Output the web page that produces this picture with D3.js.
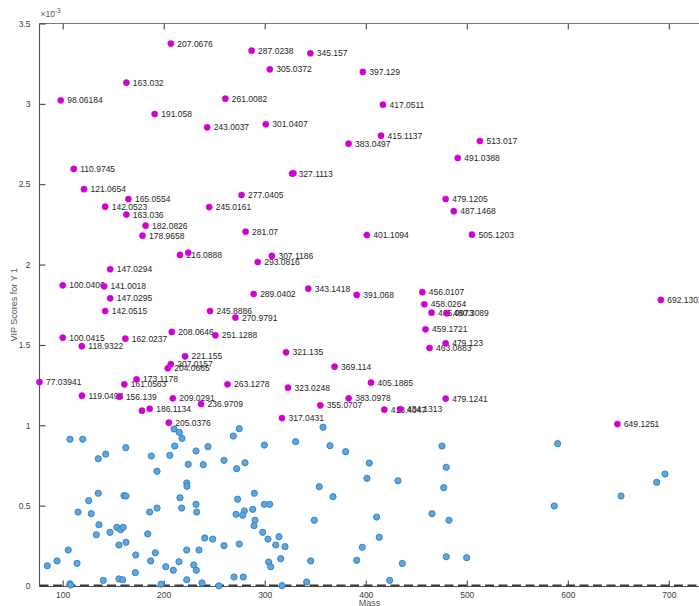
<!DOCTYPE html>
<html><head><meta charset="utf-8">
<script src="https://cdn.jsdelivr.net/npm/d3@7"></script>
<style>body{margin:0;background:#fff;}svg{display:block;font-family:"Liberation Sans",Arial,sans-serif;}</style>
</head><body>
<svg id="c" width="699" height="606"></svg>
<script>
// ---- data (VIP scores in units of 1e-3) ----
const xTicks = [100, 200, 300, 400, 500, 600, 700];
const yTicks = [0, 0.5, 1, 1.5, 2, 2.5, 3, 3.5];

// labelled (selected) features: mass label and VIP
const selLabels = ["207.0676","287.0238","345.157","305.0372","397.129","163.032","98.06184","261.0082","417.0511","191.058",
"301.0407","243.0037","415.1137","383.0497","513.017","491.0388","110.9745","327.1113","121.0654","277.0405",
"165.0554","479.1205","142.0523","245.0161","487.1468","163.036","182.0826","281.07","401.1094","505.1203",
"178.9658","216.0888","307.1186","293.0816","147.0294","100.0406","141.0018","343.1418","289.0402","391.068",
"147.0295","456.0107","458.0264","465.0973","480.3089","692.1303","142.0515","245.8886","270.9791","459.1721",
"208.0646","251.1288","100.0415","162.0237","479.123","118.9322","463.0883","321.135","221.155","207.0157",
"204.0665","369.114","173.1178","77.03941","161.0563","263.1278","405.1885","323.0248","119.0498","156.139",
"209.0291","383.0978","479.1241","236.9709","186.1134","355.0707","418.4047","434.1313","317.0431","205.0376",
"649.1251"];
const selVip = [3.375,3.331,3.315,3.215,3.199,3.132,3.022,3.032,2.995,2.937,
2.873,2.854,2.802,2.752,2.769,2.663,2.595,2.566,2.469,2.433,
2.408,2.408,2.360,2.358,2.332,2.311,2.242,2.205,2.184,2.186,
2.180,2.060,2.054,2.016,1.971,1.871,1.865,1.850,1.817,1.811,
1.790,1.828,1.753,1.701,1.697,1.780,1.711,1.711,1.670,1.597,
1.581,1.560,1.545,1.539,1.510,1.492,1.481,1.454,1.429,1.380,
1.355,1.365,1.286,1.269,1.255,1.255,1.265,1.234,1.184,1.178,
1.168,1.168,1.166,1.133,1.103,1.124,1.097,1.100,1.045,1.016,
1.008];
// selected features whose labels are hidden
const selExtraMass = [224.3, 178.5, 328.4];
const selExtraVip = [2.074, 1.091, 2.568];

// other features
const otherMass = [107.2,119.8,162.4,142.6,135.2,187.7,210.2,215.4,218.1,210.9,206.0,232.0,243.8,239.2,224.3,193.4,259.7,268.9,274.8,272.2,
135.2,125.7,115.2,128.3,160.7,162.7,135.9,133.3,146.8,153.5,157.4,160.0,155.7,162.7,222.8,223.0,216.1,217.8,193.4,186.1,
232.0,232.7,273.2,271.6,184.2,191.7,187.1,172.3,240.6,248.5,259.7,222.8,234.9,274.8,105.5,114.2,94.4,84.8,107.2,107.9,
140.2,155.7,159.4,171.9,202.0,209.5,215.1,229.7,232.3,222.8,197.3,237.9,254.7,269.6,
299.6,330.6,357.7,364.6,380.1,280.5,403.5,401.2,431.9,475.5,479.7,477.2,354.0,367.6,289.7,299.6,304.9,288.1,279.8,278.2,
290.4,289.4,349.1,410.8,465.6,482.4,298.0,303.2,314.1,310.9,320.1,413.4,396.6,303.9,305.9,315.8,345.5,391.0,436.2,479.7,
499.9,278.8,317.1,341.5,423.7,590.0,586.6,652.7,688.0,696.2];
const otherVip = [0.913,0.913,0.861,0.820,0.792,0.809,0.977,0.956,0.919,0.871,0.813,0.840,0.867,0.755,0.757,0.714,0.782,0.933,0.979,0.730,
0.577,0.531,0.460,0.450,0.562,0.560,0.381,0.319,0.334,0.365,0.350,0.365,0.255,0.272,0.641,0.620,0.549,0.485,0.485,0.460,
0.508,0.460,0.540,0.446,0.324,0.207,0.156,0.193,0.299,0.292,0.251,0.224,0.224,0.261,0.224,0.141,0.156,0.126,0.014,0.006,
0.035,0.044,0.039,0.083,0.120,0.098,0.151,0.131,0.098,0.039,0.011,0.019,0.001,0.056,
0.877,0.898,0.988,0.873,0.836,0.767,0.765,0.670,0.655,0.871,0.739,0.612,0.618,0.556,0.577,0.508,0.508,0.477,0.467,0.440,
0.409,0.375,0.409,0.429,0.450,0.409,0.334,0.292,0.307,0.255,0.245,0.303,0.241,0.149,0.120,0.170,0.156,0.160,0.140,0.182,
0.176,0.056,0.002,0.025,0.035,0.886,0.498,0.560,0.645,0.697];

// ---- drawing ----
const svg = d3.select("#c");
const L = 39.5, R = 699.5, T = 23.5, B = 586;
const x = d3.scaleLinear().domain([77.04, 730.4]).range([L, R]);
const y = d3.scaleLinear().domain([0, 3.5]).range([B, T]);
const axisCol = "#555", tickTxt = "#404040";

// frame lines
svg.append("line").attr("x1", L).attr("x2", R+5).attr("y1", T).attr("y2", T).attr("stroke", "#7a7a7a").attr("stroke-width", 1);
svg.append("line").attr("x1", L).attr("x2", L).attr("y1", T).attr("y2", B).attr("stroke", axisCol).attr("stroke-width", 1.1);
svg.append("line").attr("x1", L).attr("x2", R+5).attr("y1", B+0.5).attr("y2", B+0.5).attr("stroke", axisCol).attr("stroke-width", 1.1);

// x axis (bottom, ticks inward)
const gx = svg.append("g").attr("transform", `translate(0,${B+0.5})`)
  .call(d3.axisBottom(x).tickValues(xTicks).tickSize(-6).tickPadding(5).tickFormat(d3.format("d")));
gx.select(".domain").remove();
gx.selectAll(".tick line").attr("stroke", "#333");
gx.selectAll("text").attr("font-size", "8.5px").attr("fill", tickTxt).attr("font-family", "Liberation Sans, Arial, sans-serif");
// top ticks
const gt = svg.append("g").attr("transform", `translate(0,${T})`)
  .call(d3.axisTop(x).tickValues(xTicks).tickSize(-6).tickFormat(""));
gt.select(".domain").remove();
gt.selectAll(".tick line").attr("stroke", "#333");

// y axis (left, ticks inward)
const gy = svg.append("g").attr("transform", `translate(${L},0)`)
  .call(d3.axisLeft(y).tickValues(yTicks).tickSize(-6).tickPadding(9).tickFormat(d => d3.format("")(d)));
gy.select(".domain").remove();
gy.selectAll(".tick line").attr("stroke", "#333");
gy.selectAll("text").attr("font-size", "8.5px").attr("fill", tickTxt).attr("font-family", "Liberation Sans, Arial, sans-serif");

// exponent
const ex = svg.append("text").attr("x", L+1).attr("y", 17).attr("font-size", "8.5px").attr("fill", "#555");
ex.append("tspan").text("\u00d710");
ex.append("tspan").attr("dy", -4).attr("font-size", "6.5px").text("-3");

// axis labels
svg.append("text").attr("x", (L+R)/2).attr("y", 606).attr("text-anchor", "middle")
  .attr("font-size", "9px").attr("fill", "#555").text("Mass");
svg.append("text").attr("transform", `translate(17,${(T+B)/2}) rotate(-90)`).attr("text-anchor", "middle")
  .attr("font-size", "9px").attr("fill", "#555").text("VIP Scores for Y 1");

// zero dashed line
svg.append("line").attr("x1", L).attr("x2", R+5).attr("y1", y(0)-0.5).attr("y2", y(0)-0.5)
  .attr("stroke", "#3a3a3a").attr("stroke-width", 2).attr("stroke-dasharray", "9,4.5");

// other features
const others = otherMass.map((m, i) => ({m, v: otherVip[i]}));
svg.append("g").selectAll("circle").data(others).join("circle")
  .attr("cx", d => x(d.m)).attr("cy", d => y(d.v)).attr("r", 3.1)
  .attr("fill", "#5ea6dd").attr("stroke", "#3585c5").attr("stroke-width", 1);

// selected features
const sel = selLabels.map((t, i) => ({m: +t, v: selVip[i], t}));
const extra = selExtraMass.map((m, i) => ({m, v: selExtraVip[i], t: ""}));
svg.append("g").selectAll("text").data(sel).join("text")
  .attr("x", d => x(d.m) + 6.5).attr("y", d => y(d.v)).attr("dy", "0.35em")
  .attr("font-size", "8.5px").attr("fill", "#262626").text(d => d.t);
svg.append("g").selectAll("circle").data(sel.concat(extra)).join("circle")
  .attr("cx", d => x(d.m)).attr("cy", d => y(d.v)).attr("r", 3.1)
  .attr("fill", "#d200d2").attr("stroke", "#c800c8").attr("stroke-width", 0.5);
</script>
</body></html>
